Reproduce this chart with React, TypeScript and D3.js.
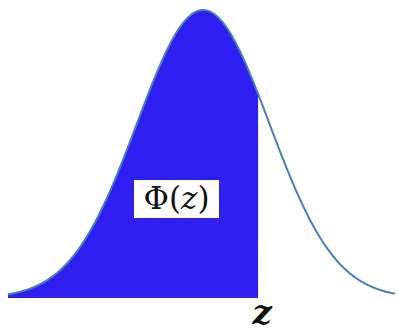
import React from 'react';
import * as d3 from 'd3';

// standard normal, plotted over a slightly trimmed range
const xDomain = [-2.95, 2.9];
const zValue = [0.83];
const labels = ['Φ(', 'z', ')'];
const zLabel = ['z'];

const W = 398;
const H = 332;

function pdf(t: number) {
  return Math.exp(-t * t / 2) / Math.sqrt(2 * Math.PI);
}

export default function App() {
  const x = d3.scaleLinear().domain(xDomain).range([8, 395]);
  const y = d3.scaleLinear().domain([0, pdf(0)]).range([298, 10]);

  const pts = d3.range(xDomain[0], xDomain[1] + 0.0001, 0.01);
  const z = zValue[0];
  const shaded = pts.filter((t) => t <= z).concat([z]);

  const line = d3.line<number>().x((t) => x(t)).y((t) => y(pdf(t)));
  const area = d3
    .area<number>()
    .x((t) => x(t))
    .y0(y(0))
    .y1((t) => y(pdf(t)));

  return (
    <svg
      width={W}
      height={H}
      style={{ position: 'absolute', left: 0, top: 0, background: '#fff' }}
    >
      <path d={area(shaded) || ''} fill="#2e1ef0" />
      <path d={line(pts) || ''} fill="none" stroke="#4a7ebb" strokeWidth={2} />
      <rect x={134} y={180} width={85} height={38} fill="#fff" />
      <text
        x={176.5}
        y={209}
        textAnchor="middle"
        fontFamily="DejaVu Serif"
        fontSize={31}
        fill="#111"
      >
        <tspan>{labels[0]}</tspan>
        <tspan fontStyle="italic">{labels[1]}</tspan>
        <tspan>{labels[2]}</tspan>
      </text>
      <text
        x={x(z) + 4}
        y={324}
        textAnchor="middle"
        fontFamily="DejaVu Serif"
        fontStyle="italic"
        fontWeight="bold"
        fontSize={34}
        fill="#111"
      >
        {zLabel[0]}
      </text>
    </svg>
  );
}
